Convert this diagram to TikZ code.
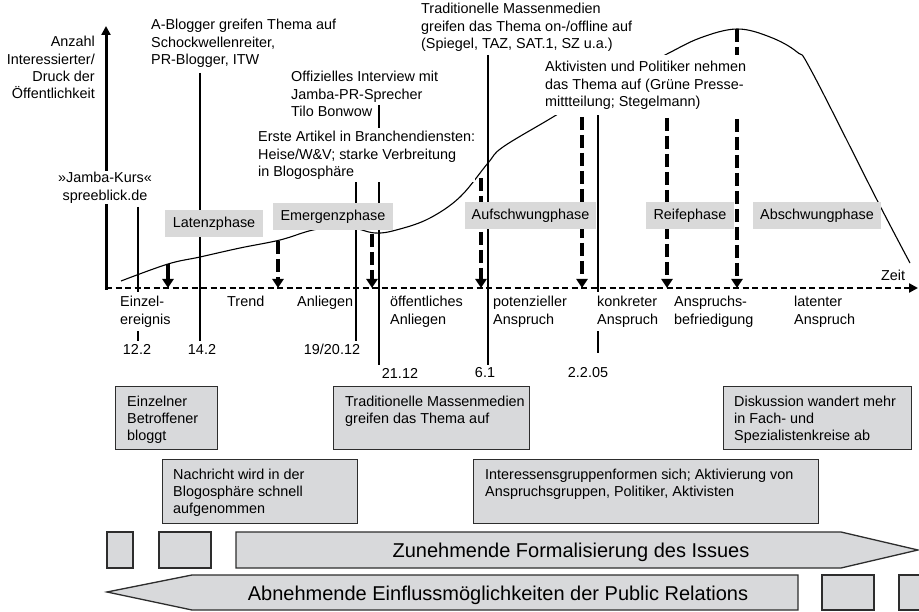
\documentclass[tikz,border=0pt]{standalone}
\usepackage{fontspec}
\setmainfont{Liberation Sans}
\usetikzlibrary{arrows.meta}
\pgfdeclarelayer{lines}
\pgfsetlayers{lines,main}

\definecolor{phasegray}{RGB}{217,217,217}
\definecolor{boxgray}{RGB}{216,217,219}
\definecolor{edgegray}{RGB}{45,45,45}

\tikzset{
  txt/.style={font=\fontsize{14.4}{17.4}\selectfont, inner sep=0pt, align=left},
  covertxt/.style={txt, fill=white},
  phase/.style={txt, fill=phasegray, minimum height=27pt, align=center},
  evbox/.style={draw=edgegray, fill=boxgray, line width=1.3pt, inner sep=0pt, anchor=north west},
  datum/.style={txt, inner sep=3pt},
  marker/.style={line width=1.2pt},
  turn/.style={line width=4pt, dash pattern=on 13pt off 5pt, -{Triangle[width=11pt,length=9pt]}},
  bigarrow/.style={draw=edgegray, fill=boxgray, line width=1.3pt},
  bigtxt/.style={font=\fontsize{20}{24}\selectfont, inner sep=0pt, anchor=base}
}

\begin{document}
\begin{tikzpicture}[x=1pt,y=-1pt]
\useasboundingbox (0,0) rectangle (919,612);

% Ereignisse oben
\node[txt, align=right, anchor=north east] (ylabel) at (95,36) {Anzahl\\Interessierter/\\Druck der\\Öffentlichkeit};
\node[covertxt, align=center, anchor=north, inner sep=1pt] (jamba) at (105,171) {»Jamba-Kurs«\\spreeblick.de};
\node[txt, anchor=north west] (blogger) at (151,19) {A-Blogger greifen Thema auf\\Schockwellenreiter,\\PR-Blogger, ITW};
\node[txt, anchor=north west] (interview) at (291,71) {Offizielles Interview mit\\Jamba-PR-Sprecher\\Tilo Bonwow};
\node[covertxt, anchor=north west, inner ysep=3pt] (artikel) at (258,128) {Erste Artikel in Branchendiensten:\\Heise/W\&V; starke Verbreitung\\in Blogosphäre};
\node[txt, anchor=north west] (medien) at (421,3) {Traditionelle Massenmedien\\greifen das Thema on-/offline auf\\(Spiegel, TAZ, SAT.1, SZ u.a.)};
\node[covertxt, anchor=north west, inner ysep=6pt] (aktiv) at (545,55) {Aktivisten und Politiker nehmen\\das Thema auf (Grüne Presse-\\mittteilung; Stegelmann)};
\node[txt] (zeit) at (893,275) {Zeit};

% Phasen
\node[phase, minimum width=98pt] (latenz) at (214,223.5) {Latenzphase};
\node[phase, minimum width=120pt] (emergenz) at (333,216.5) {Emergenzphase};
\node[phase, minimum width=131pt] (aufschwung) at (530.5,215.5) {Aufschwungphase};
\node[phase, minimum width=88pt] (reife) at (690,215.5) {Reifephase};
\node[phase, minimum width=128pt] (abschwung) at (817,215.5) {Abschwungphase};

% Stufen unter der Zeitachse
\foreach \x/\n/\t in {119/einzel/{Einzel-\\ereignis}, 226/trend/Trend, 296/anliegen/Anliegen,
    389/oeffentlich/{öffentliches\\Anliegen}, 492/potenziell/{potenzieller\\Anspruch},
    596/konkret/{konkreter\\Anspruch}, 673/befriedigung/{Anspruchs-\\befriedigung},
    793/latent/{latenter\\Anspruch}}
  \node[covertxt, anchor=north west, inner xsep=1pt, inner ysep=4pt] (\n) at (\x,292) {\t};

% Daten
\node[datum] (d1) at (137,349) {12.2};
\node[datum] (d2) at (202,349) {14.2};
\node[datum] (d3) at (332,349) {19/20.12};
\node[datum] (d4) at (400,373) {21.12};
\node[datum] (d5) at (485,373) {6.1};
\node[datum] (d6) at (588,373) {2.2.05};

\begin{pgfonlayer}{lines}
% Achsen
\coordinate (origin) at (106,288);
\coordinate (yfoot) at (106,290);
\coordinate (ytip) at (106,26);
\coordinate (xtip) at (918,288);
\draw[line width=3pt, -{Triangle[width=9pt,length=9pt]}] (yfoot) -- (ytip);
\draw[line width=2.2pt, dash pattern=on 6pt off 3.5pt, -{Triangle[width=9pt,length=9pt]}] (origin) -- (xtip);

% Verlauf
\draw[line width=1.1pt] plot[smooth, tension=0.6] coordinates {(121,281) (168,264) (200,257)
  (240,248) (280,240) (313,230) (345,226) (375,233) (400,229) (430,218) (460,197) (488,163)
  (503,147) (553,117) (605,85) (663,56) (700,38) (737,29) (770,37) (797,52) (812,72)
  (877,200) (910,263)};

% Ereignislinien
\coordinate (m1) at (138,207);
\coordinate (m2) at (200,73);
\coordinate (m3) at (356,182);
\coordinate (m4) at (379,105);
\coordinate (m5) at (488,55);
\coordinate (m6) at (598,115);
\coordinate (m6end) at (598,353);
\foreach \i in {1,...,5}
  \draw[marker] (m\i) -- (m\i |- d\i.north);
\draw[marker] (m6) -- (m6end);

% Umschlagpunkte
\coordinate (turn0) at (168,264);
\draw[turn, solid] (turn0) -- (turn0 |- origin);
\foreach \x/\y [count=\i] in {278/241, 372/234, 481/178, 582/117, 667/118, 737/29} {
  \coordinate (turn\i) at (\x,\y);
  \draw[turn] (turn\i) -- (turn\i |- origin);
}
\end{pgfonlayer}

% Kaesten unten
\node[evbox, minimum width=102pt, minimum height=63pt] (b1) at (115,386) {};
\node[txt, anchor=north west] (b1t) at ([shift={(12,9.5)}]b1.north west) {Einzelner\\Betroffener\\bloggt};
\node[evbox, minimum width=196pt, minimum height=63pt] (b2) at (333,386) {};
\node[txt, anchor=north west] (b2t) at ([shift={(12,9.5)}]b2.north west) {Traditionelle Massenmedien\\greifen das Thema auf};
\node[evbox, minimum width=188pt, minimum height=63pt] (b3) at (723,386) {};
\node[txt, anchor=north west] (b3t) at ([shift={(11,9.5)}]b3.north west) {Diskussion wandert mehr\\in Fach- und\\Spezialistenkreise ab};
\node[evbox, minimum width=195pt, minimum height=64pt] (b4) at (162,459) {};
\node[txt, anchor=north west] (b4t) at ([shift={(11,9.5)}]b4.north west) {Nachricht wird in der\\Blogosphäre schnell\\aufgenommen};
\node[evbox, minimum width=345pt, minimum height=64pt] (b5) at (473,459) {};
\node[txt, anchor=north west] (b5t) at ([shift={(12,9.5)}]b5.north west) {Interessensgruppenformen sich; Aktivierung von\\Anspruchsgruppen, Politiker, Aktivisten};

% Pfeile unten
\draw[bigarrow] (107,532) rectangle (133,568);
\draw[bigarrow] (159,532) rectangle (211,568);
\draw[bigarrow] (236,532) -- (841,532) -- (918,550) -- (841,568) -- (236,568) -- cycle;
\node[bigtxt] (zunahme) at (571,557) {Zunehmende Formalisierung des Issues};
\draw[bigarrow] (107,592) -- (192,575) -- (798,575) -- (798,610) -- (192,610) -- cycle;
\node[bigtxt] (abnahme) at (498,600) {Abnehmende Einflussmöglichkeiten der Public Relations};
\draw[bigarrow] (822,575) rectangle (874,610);
\draw[bigarrow] (899,575) rectangle (930,610);
\end{tikzpicture}
\end{document}
